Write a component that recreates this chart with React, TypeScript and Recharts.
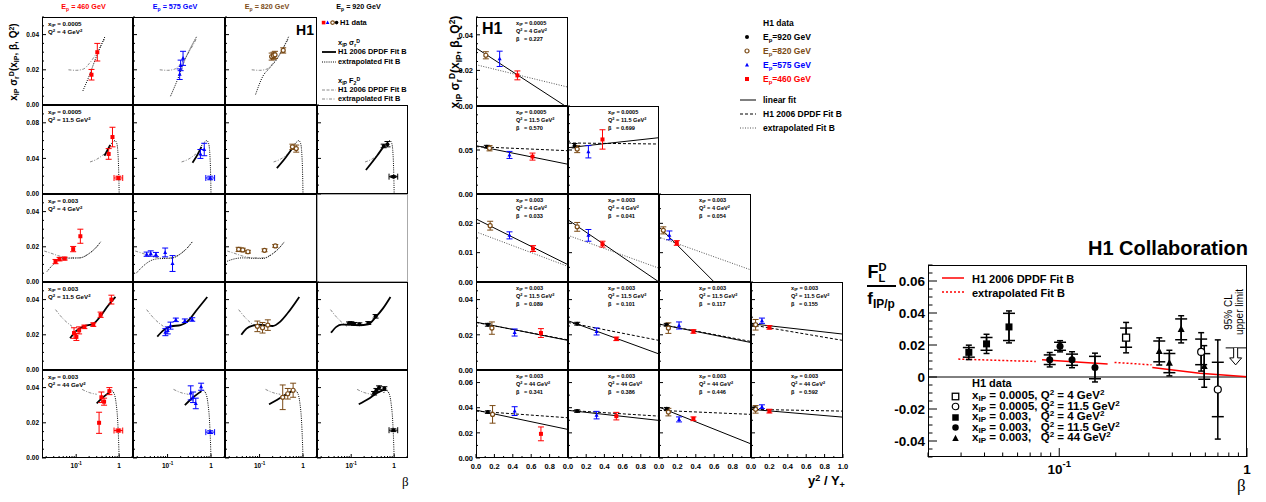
import React from 'react';
import { ComposedChart, Line, Scatter, XAxis, YAxis, ErrorBar, ReferenceLine } from 'recharts';

const FONT = '"Liberation Sans", Arial, Helvetica, sans-serif';
const SERIF = '"Liberation Serif", "DejaVu Serif", serif';
const RED = '#ff0000';
const BLUE = '#0000ff';
const BROWN = '#7b4b16';
const GRAY = '#8a8a8a';

// ---------- left block: x_IP sigma_r^D versus beta ----------
const beamEnergies = ['460', '575', '820', '920'];
const beamColors = [RED, BLUE, BROWN, '#000'];
const beamMarkers = ['square', 'triangle', 'open', 'circle'];
const leftBins = [['0.0005', '4'], ['0.0005', '11.5'], ['0.003', '4'], ['0.003', '11.5'], ['0.003', '44']];

// [beta, value, error] ; optional [.., beta err low, beta err high]
const sig1_460 = [[0.227, 0.0172, 0.003], [0.31, 0.030, 0.005]];
const sig1_575 = [[0.19, 0.0175, 0.003], [0.2, 0.0225, 0.003], [0.227, 0.0265, 0.004]];
const sig1_820 = [[0.19, 0.0275, 0.002], [0.21, 0.028, 0.002], [0.227, 0.0285, 0.002], [0.35, 0.031, 0.0015]];
const sig2_460 = [[0.57, 0.045, 0.006], [0.699, 0.064, 0.011], [0.96, 0.018, 0.002, 0.2, 0.25]];
const sig2_575 = [[0.57, 0.045, 0.005], [0.699, 0.050, 0.007], [0.96, 0.018, 0.002, 0.2, 0.25]];
const sig2_820 = [[0.57, 0.053, 0.003], [0.699, 0.051, 0.004]];
const sig2_920 = [[0.57, 0.054, 0.002], [0.699, 0.056, 0.003], [0.96, 0.0195, 0.001, 0.2, 0.25]];
const sig3_460 = [[0.033, 0.0116, 0.0012], [0.041, 0.013, 0.001], [0.054, 0.0133, 0.0008], [0.085, 0.0187, 0.0015], [0.125, 0.026, 0.004]];
const sig3_575 = [[0.033, 0.0158, 0.0012], [0.041, 0.0162, 0.0015], [0.054, 0.0156, 0.0012], [0.088, 0.0168, 0.0025], [0.13, 0.0105, 0.0045]];
const sig3_820 = [[0.033, 0.0185, 0.0012], [0.041, 0.0182, 0.001], [0.054, 0.0172, 0.0008], [0.13, 0.018, 0.0008], [0.23, 0.0205, 0.0008]];
const sig4_460 = [[0.089, 0.021, 0.003], [0.101, 0.0188, 0.002], [0.117, 0.0225, 0.002], [0.155, 0.0245, 0.001], [0.25, 0.0258, 0.001], [0.37, 0.0314, 0.0015], [0.66, 0.040, 0.0025]];
const sig4_575 = [[0.089, 0.0215, 0.002], [0.101, 0.0225, 0.002], [0.117, 0.0252, 0.002], [0.155, 0.0285, 0.001], [0.25, 0.028, 0.001], [0.37, 0.0287, 0.001]];
const sig4_820 = [[0.089, 0.0248, 0.003], [0.117, 0.024, 0.003], [0.155, 0.0255, 0.003]];
const sig4_920 = [[0.089, 0.0265, 0.0008], [0.101, 0.0266, 0.0008], [0.117, 0.0262, 0.0008], [0.155, 0.026, 0.0008], [0.25, 0.0267, 0.0008], [0.37, 0.0305, 0.001]];
const sig5_460 = [[0.341, 0.020, 0.006], [0.386, 0.0345, 0.003], [0.446, 0.032, 0.002], [0.592, 0.038, 0.002], [0.96, 0.0156, 0.0008, 0.2, 0.25]];
const sig5_575 = [[0.341, 0.037, 0.004], [0.386, 0.0345, 0.003], [0.446, 0.031, 0.003], [0.592, 0.0405, 0.002], [0.96, 0.0147, 0.0008, 0.2, 0.25]];
const sig5_820 = [[0.341, 0.0345, 0.007], [0.446, 0.0365, 0.003], [0.592, 0.0385, 0.004]];
const sig5_920 = [[0.341, 0.0368, 0.001], [0.386, 0.0385, 0.001], [0.446, 0.040, 0.001], [0.592, 0.0395, 0.001], [0.96, 0.0158, 0.0008, 0.2, 0.25]];

// F2 extrapolation (gray), per row
const f2ext_1 = [[0.066, 0.020], [0.1, 0.0197], [0.15, 0.0205], [0.2, 0.0235], [0.3, 0.0295], [0.47, 0.038]];
const f2ext_2 = [[0.21, 0.036], [0.3, 0.039], [0.45, 0.045]];
const f2ext_3 = [[0.018, 0.0176], [0.025, 0.0165], [0.04, 0.0148], [0.07, 0.0137], [0.12, 0.0137], [0.2, 0.0162], [0.3, 0.020], [0.37, 0.0228]];
const f2ext_4 = [[0.033, 0.0343], [0.05, 0.029], [0.08, 0.0248]];
const f2ext_5 = [[0.137, 0.039], [0.2, 0.0372], [0.3, 0.0362]];

// sigma_r fit (solid)
const sigfit_2_460 = [[0.455, 0.043], [0.62, 0.055]];
const sigfit_2_575 = [[0.375, 0.035], [0.5, 0.045], [0.6, 0.053]];
const sigfit_2_820 = [[0.25, 0.029], [0.4, 0.041], [0.6, 0.053]];
const sigfit_2_920 = [[0.22, 0.027], [0.4, 0.043], [0.6, 0.055]];
const sigfit_4_460 = [[0.072, 0.018], [0.1, 0.0222], [0.15, 0.0248], [0.25, 0.0262], [0.38, 0.031], [0.55, 0.0365], [0.82, 0.0415]];
const sigfit_4_575 = [[0.058, 0.019], [0.08, 0.0225], [0.12, 0.0248], [0.2, 0.0255], [0.3, 0.028], [0.45, 0.0335], [0.82, 0.0415]];
const sigfit_4_820 = [[0.038, 0.020], [0.05, 0.0235], [0.07, 0.0252], [0.1, 0.0257], [0.2, 0.025], [0.3, 0.0275], [0.45, 0.0325], [0.82, 0.0415]];
const sigfit_4_920 = [[0.034, 0.0212], [0.045, 0.0245], [0.06, 0.0258], [0.1, 0.0258], [0.15, 0.0255], [0.25, 0.026], [0.37, 0.030], [0.55, 0.035], [0.82, 0.0415]];
const sigfit_5_460 = [[0.3, 0.031], [0.4, 0.034], [0.57, 0.037]];
const sigfit_5_575 = [[0.25, 0.030], [0.35, 0.0335], [0.6, 0.038]];
const sigfit_5_820 = [[0.165, 0.0305], [0.25, 0.033], [0.4, 0.036], [0.6, 0.0385]];
const sigfit_5_920 = [[0.15, 0.0305], [0.25, 0.0335], [0.4, 0.037], [0.6, 0.039]];

// sigma_r extrapolation (dotted)
const sigext_1_460 = [[0.143, 0.008], [0.2, 0.0165], [0.3, 0.028], [0.47, 0.039]];
const sigext_1_575 = [[0.117, 0.005], [0.17, 0.0145], [0.25, 0.0255], [0.47, 0.039]];
const sigext_1_820 = [[0.081, 0.006], [0.12, 0.0165], [0.17, 0.021], [0.25, 0.026], [0.47, 0.039]];
const sigext_3_460 = [[0.021, 0.006], [0.028, 0.0095], [0.04, 0.0125], [0.06, 0.0135], [0.12, 0.0137], [0.2, 0.0162], [0.3, 0.020], [0.37, 0.0228]];
const sigext_3_575 = [[0.019, 0.005], [0.026, 0.0085], [0.04, 0.012], [0.06, 0.0132], [0.12, 0.0135], [0.2, 0.016], [0.3, 0.020], [0.37, 0.0228]];
const sigext_3_820 = [[0.018, 0.0118], [0.025, 0.013], [0.04, 0.0137], [0.07, 0.0135], [0.12, 0.0134], [0.2, 0.016], [0.3, 0.020], [0.37, 0.0228]];
const tail_2 = [[0.6, 0.054], [0.7, 0.058], [0.8, 0.060], [0.88, 0.057], [0.94, 0.045], [0.97, 0.030], [0.99, 0.012], [1.0, 0]];
const tail_5 = [[0.57, 0.037], [0.65, 0.0385], [0.75, 0.037], [0.85, 0.031], [0.92, 0.022], [0.97, 0.010], [1.0, 0]];

const leftPts = [
  [sig1_460, sig1_575, sig1_820, null],
  [sig2_460, sig2_575, sig2_820, sig2_920],
  [sig3_460, sig3_575, sig3_820, null],
  [sig4_460, sig4_575, sig4_820, sig4_920],
  [sig5_460, sig5_575, sig5_820, sig5_920],
];
const leftFit = [
  [null, null, null, null],
  [sigfit_2_460, sigfit_2_575, sigfit_2_820, sigfit_2_920],
  [null, null, null, null],
  [sigfit_4_460, sigfit_4_575, sigfit_4_820, sigfit_4_920],
  [sigfit_5_460, sigfit_5_575, sigfit_5_820, sigfit_5_920],
];
const leftExt = [
  [sigext_1_460, sigext_1_575, sigext_1_820, null],
  [tail_2, tail_2, tail_2, tail_2],
  [sigext_3_460, sigext_3_575, sigext_3_820, null],
  [null, null, null, null],
  [tail_5, tail_5, tail_5, tail_5],
];
const leftF2 = [f2ext_1, f2ext_2, f2ext_3, f2ext_4, f2ext_5];

const leftYDomains = [[0, 0.05], [0, 0.1], [0, 0.05], [0, 0.05], [0, 0.05]];
const leftYMajor = [[0, 0.02, 0.04], [0, 0.04, 0.08], [0, 0.02, 0.04], [0, 0.02, 0.04], [0, 0.02, 0.04]];
const ticks005 = [0, 0.005, 0.01, 0.015, 0.02, 0.025, 0.03, 0.035, 0.04, 0.045, 0.05];
const ticks01 = [0, 0.01, 0.02, 0.03, 0.04, 0.05, 0.06, 0.07, 0.08, 0.09, 0.1];
const leftYTicks = [ticks005, ticks01, ticks005, ticks005, ticks005];
const betaTicks = [0.02, 0.03, 0.04, 0.05, 0.06, 0.07, 0.08, 0.09, 0.1, 0.2, 0.3, 0.4, 0.5, 0.6, 0.7, 0.8, 0.9, 1, 2];
const betaMajor = [0.1, 1];

// ---------- middle block: sigma_r versus y^2/Y+ ----------
// per panel: points for 920, 820, 575, 460 GeV as [y2/Y+, value, error]
const midBetas = [['0.227'], ['0.570', '0.699'], ['0.033', '0.041', '0.054'], ['0.089', '0.101', '0.117', '0.155'], ['0.341', '0.386', '0.446', '0.592']];
const mid_227 = [null, [0.107, 0.0285, 0.002], [0.257, 0.0265, 0.0043], [0.45, 0.0172, 0.0025]];
const mid_570 = [[0.118, 0.0538, 0.0015], [0.147, 0.052, 0.003], [0.364, 0.0444, 0.004], [0.614, 0.0425, 0.004]];
const mid_699 = [[0.072, 0.0549, 0.0025], [0.101, 0.051, 0.004], [0.224, 0.048, 0.007], [0.379, 0.062, 0.011]];
const mid_033 = [null, [0.154, 0.0192, 0.0015], [0.364, 0.0159, 0.0012], [0.62, 0.0114, 0.001]];
const mid_041 = [null, [0.101, 0.0188, 0.0015], [0.224, 0.0159, 0.002], [0.379, 0.0129, 0.001]];
const mid_054 = [null, [0.047, 0.0176, 0.0012], [0.113, 0.0159, 0.0015], [0.193, 0.0133, 0.0008]];
const mid_089 = [[0.129, 0.0257, 0.0008], [0.173, 0.0238, 0.0035], [0.42, 0.0213, 0.002], [0.706, 0.021, 0.0025]];
const mid_101 = [[0.101, 0.0263, 0.0008], null, [0.314, 0.0219, 0.002], [0.531, 0.0177, 0.001]];
const mid_117 = [[0.084, 0.0257, 0.0008], [0.102, 0.0238, 0.003], [0.218, 0.0253, 0.002], [0.374, 0.0219, 0.001]];
const mid_155 = [[0.04, 0.0257, 0.0008], [0.05, 0.0257, 0.003], [0.119, 0.028, 0.0015], [0.2, 0.0242, 0.001]];
const mid_341 = [[0.129, 0.0365, 0.001], [0.18, 0.0347, 0.007], [0.42, 0.0373, 0.0035], [0.706, 0.0192, 0.0055]];
const mid_386 = [[0.101, 0.0373, 0.001], null, [0.314, 0.0341, 0.003], [0.531, 0.0333, 0.003]];
const mid_446 = [[0.084, 0.0392, 0.001], [0.102, 0.0365, 0.003], [0.218, 0.0307, 0.002], [0.374, 0.0312, 0.0015]];
const mid_592 = [[0.04, 0.0395, 0.001], [0.05, 0.0387, 0.003], [0.119, 0.0408, 0.0015], [0.2, 0.0373, 0.0015]];
const midPts = [[mid_227], [mid_570, mid_699], [mid_033, mid_041, mid_054], [mid_089, mid_101, mid_117, mid_155], [mid_341, mid_386, mid_446, mid_592]];

const lin_227 = [[0, 0.0326], [0.97, 0]];
const lin_570 = [[0, 0.0549], [1, 0.0338]];
const lin_699 = [[0, 0.0526], [1, 0.064]];
const lin_033 = [[0, 0.0215], [1, 0.0059]];
const lin_041 = [[0, 0.0212], [1, 0]];
const lin_054 = [[0, 0.0188], [0.6, 0]];
const lin_089 = [[0, 0.0272], [1, 0.0168]];
const lin_101 = [[0, 0.028], [1, 0.0091]];
const lin_117 = [[0, 0.0261], [1, 0.0156]];
const lin_155 = [[0, 0.0263], [1, 0.0204]];
const lin_341 = [[0, 0.0381], [1, 0.0227]];
const lin_386 = [[0, 0.0379], [1, 0.0299]];
const lin_446 = [[0, 0.0405], [1, 0.0112]];
const lin_592 = [[0, 0.0387], [1, 0.0325]];
const midLin = [[lin_227], [lin_570, lin_699], [lin_033, lin_041, lin_054], [lin_089, lin_101, lin_117, lin_155], [lin_341, lin_386, lin_446, lin_592]];

const fb_227 = [[0, 0.0232], [1, 0.0106]];
const fb_570 = [[0, 0.0538], [1, 0.0492]];
const fb_699 = [[0, 0.058], [1, 0.0568]];
const fb_033 = [[0, 0.0171], [1, 0.0053]];
const fb_041 = [[0, 0.0159], [1, 0.0047]];
const fb_054 = [[0, 0.0153], [1, 0.0041]];
const fb_089 = [[0, 0.027], [1, 0.0171]];
const fb_101 = [[0, 0.027], [1, 0.0168]];
const fb_117 = [[0, 0.0261], [1, 0.0162]];
const fb_155 = [[0, 0.0257], [1, 0.0168]];
const fb_341 = [[0, 0.0373], [1, 0.032]];
const fb_386 = [[0, 0.0379], [1, 0.0333]];
const fb_446 = [[0, 0.0379], [1, 0.0347]];
const fb_592 = [[0, 0.0387], [1, 0.0373]];
const midFitB = [[fb_227], [fb_570, fb_699], [fb_033, fb_041, fb_054], [fb_089, fb_101, fb_117, fb_155], [fb_341, fb_386, fb_446, fb_592]];
const midExtrapolated = [true, false, true, false, false];

const midYDomains = [[0, 0.05], [0, 0.1], [0, 0.03], [0, 0.05], [0, 0.07]];
const midYMajor = [[0, 0.02, 0.04], [0, 0.05], [0, 0.01, 0.02], [0, 0.02, 0.04], [0, 0.02, 0.04, 0.06]];
const midYTicks = [ticks005, ticks01, [0, 0.005, 0.01, 0.015, 0.02, 0.025, 0.03], ticks005, [0, 0.01, 0.02, 0.03, 0.04, 0.05, 0.06, 0.07]];
const yyTicks = [0, 0.1, 0.2, 0.3, 0.4, 0.5, 0.6, 0.7, 0.8, 0.9, 1];
const yyMajor = [0, 0.2, 0.4, 0.6, 0.8, 1];
const midEnergies = ['920', '820', '575', '460'];
const midColors = ['#000', BROWN, BLUE, RED];
const midMarkers = ['circle', 'open', 'triangle', 'square'];

// ---------- right block: F_L^D / f_IP/p ----------
// [beta, value, stat, total]
const fl_0005_4 = [[0.227, 0.0246, 0.006, 0.0095]];
const fl_0005_115 = [[0.570, 0.0157, 0.008, 0.012], [0.699, -0.0078, 0.017, 0.031]];
const fl_003_4 = [[0.033, 0.0154, 0.003, 0.0045], [0.041, 0.0207, 0.004, 0.006], [0.054, 0.0313, 0.0085, 0.010]];
const fl_003_115 = [[0.089, 0.0108, 0.003, 0.0045], [0.101, 0.0192, 0.0025, 0.0035], [0.117, 0.0108, 0.0035, 0.005], [0.155, 0.0059, 0.007, 0.009]];
const fl_003_44 = [[0.341, 0.016, 0.0065, 0.0085], [0.386, 0.0087, 0.006, 0.008], [0.446, 0.0298, 0.0065, 0.0085], [0.592, 0.0066, 0.008, 0.013]];
const flSets = [fl_0005_4, fl_0005_115, fl_003_4, fl_003_115, fl_003_44];
const flMarkers = ['osquare', 'open', 'square', 'circle', 'triangle'];
const flLabels = [['0.0005,', '4'], ['0.0005,', '11.5'], ['0.003,', '4'], ['0.003,', '11.5'], ['0.003,', '44']];
const flFit_a = [[0.081, 0.0108], [0.181, 0.0081]];
const flFit_b = [[0.313, 0.0059], [0.56, 0.0023], [1.0, 0.0002]];
const flExt_a = [[0.029, 0.0112], [0.075, 0.0097]];
const flExt_b = [[0.197, 0.0091], [0.31, 0.0076]];
const flLimit = [[0.77, 0.0182], [1, 0.0182]];
const flArrow = [[0.87, 0.0182]];
const flXTicks = [0.02, 0.03, 0.04, 0.05, 0.06, 0.07, 0.08, 0.09, 0.1, 0.2, 0.3, 0.4, 0.5, 0.6, 0.7, 0.8, 0.9, 1];
const flYTicks = [-0.05, -0.045, -0.04, -0.035, -0.03, -0.025, -0.02, -0.015, -0.01, -0.005, 0, 0.005, 0.01, 0.015, 0.02, 0.025, 0.03, 0.035, 0.04, 0.045, 0.05, 0.055, 0.06, 0.065, 0.07];
const flYMajor = [-0.04, -0.02, 0, 0.02, 0.04, 0.06];

const near = (v: number, arr: number[]) => arr.some((a) => Math.abs(a - v) < 1e-9);

function Marker({ kind, color, cx, cy, s }: any) {
  if (cx == null || cy == null) return null;
  const h = s / 2;
  if (kind === 'square') return <rect x={cx - h} y={cy - h} width={s} height={s} fill={color} />;
  if (kind === 'osquare') return <rect x={cx - h} y={cy - h} width={s} height={s} fill="#fff" stroke={color} strokeWidth={1.3} />;
  if (kind === 'open') return <circle cx={cx} cy={cy} r={h} fill="#fff" stroke={color} strokeWidth={1.2} />;
  if (kind === 'triangle') return <path d={`M${cx},${cy - h * 1.15}L${cx + h},${cy + h * 0.75}L${cx - h},${cy + h * 0.75}Z`} fill={color} />;
  return <circle cx={cx} cy={cy} r={h} fill={color} />;
}

// sub/superscripts shifted without growing the line box
const Sub = ({ children }: any) => <span style={{ fontSize: '0.7em', position: 'relative', top: '0.3em' }}>{children}</span>;
const Sup = ({ children }: any) => <span style={{ fontSize: '0.7em', position: 'relative', top: '-0.45em' }}>{children}</span>;

function Txt({ x, y, fs, color = '#000', bold = true, anchor = 'start', font = FONT, children }: any) {
  const tx = anchor === 'middle' ? '-50%' : anchor === 'end' ? '-100%' : '0';
  return (
    <div style={{ position: 'absolute', left: x, top: y, transform: `translate(${tx}, -50%)`, fontSize: fs, fontWeight: bold ? 700 : 400, color, whiteSpace: 'pre', lineHeight: 1, fontFamily: font }}>
      {children}
    </div>
  );
}

function VTxt({ x, y, fs, bold = true, children }: any) {
  return (
    <div style={{ position: 'absolute', left: x, top: y, transform: 'translate(-50%, -50%) rotate(-90deg)', fontSize: fs, fontWeight: bold ? 700 : 400, whiteSpace: 'nowrap', lineHeight: 1, fontFamily: FONT }}>
      {children}
    </div>
  );
}

function LineKey({ x, y, w, color = '#000', dash, width = 1 }: any) {
  return (
    <svg style={{ position: 'absolute', left: x, top: y - 3 }} width={w} height={6}>
      <line x1={0} x2={w} y1={3} y2={3} stroke={color} strokeDasharray={dash} strokeWidth={width} />
    </svg>
  );
}

function MarkKey({ x, y, kind, color, s }: any) {
  return (
    <svg style={{ position: 'absolute', left: x - s, top: y - s }} width={2 * s} height={2 * s}>
      <Marker kind={kind} color={color} cx={s} cy={s} s={s} />
    </svg>
  );
}

const logLabel = (v: number, fs: number) =>
  v === 1 ? '1' : (
    <>
      10<tspan dy={-fs * 0.45} fontSize={fs * 0.7}>-1</tspan>
    </>
  );

interface CurveSpec { pts: number[][]; color: string; dash?: string; width?: number; kind?: 'monotone' | 'linear' }
interface PointSpec { pts: number[][]; color: string; kind: string; size: number; cap?: number; stat?: boolean }

function Panel(p: {
  left: number; top: number; w: number; h: number; ml: number; xh: number;
  xDom: number[]; yDom: number[]; log?: boolean;
  xTicks: number[]; xMajor: number[]; xShow: number[]; xFmt: (v: number) => any;
  yTicks: number[]; yMajor: number[]; yShow: boolean; yFmt: (v: number) => string;
  fs: number; tl: number; curves: CurveSpec[]; series: PointSpec[]; extra?: any; zero?: boolean; bw?: number;
}) {
  const mt = 6, mr = 8, mb = 6;
  const yTick = (t: any) => {
    const v = t.payload.value;
    const major = near(v, p.yMajor);
    return (
      <g>
        <line x1={t.x} x2={t.x + (major ? p.tl : p.tl / 2)} y1={t.y} y2={t.y} stroke="#000" strokeWidth={1} />
        {p.yShow && major && (
          <text x={t.x - 3} y={t.y} dy="0.36em" textAnchor="end" fontSize={p.fs} fontWeight={700} fontFamily={FONT} fill="#000">
            {p.yFmt(v)}
          </text>
        )}
      </g>
    );
  };
  const xTick = (t: any) => {
    const v = t.payload.value;
    const major = near(v, p.xMajor);
    return (
      <g>
        <line x1={t.x} x2={t.x} y1={t.y} y2={t.y - (major ? p.tl : p.tl / 2)} stroke="#000" strokeWidth={1} />
        {near(v, p.xShow) && (
          <text x={t.x} y={t.y + p.fs + 3} textAnchor="middle" fontSize={p.fs} fontWeight={700} fontFamily={FONT} fill="#000">
            {p.xFmt(v)}
          </text>
        )}
      </g>
    );
  };
  return (
    <div style={{ position: 'absolute', left: p.left - p.ml, top: p.top - mt }}>
      <ComposedChart width={p.ml + p.w + mr} height={mt + p.h + mb + p.xh} margin={{ top: mt, right: mr, bottom: mb, left: 0 }}>
        <XAxis type="number" dataKey="x" scale={p.log ? 'log' : 'linear'} domain={p.xDom} allowDataOverflow ticks={p.xTicks} interval={0}
          tickLine={false} axisLine={false} tickSize={0} tickMargin={0} height={p.xh} tick={xTick} />
        <YAxis type="number" dataKey="y" domain={p.yDom} allowDataOverflow ticks={p.yTicks} interval={0}
          tickLine={false} axisLine={false} tickSize={0} tickMargin={0} width={p.ml} tick={yTick} />
        {p.zero && <ReferenceLine y={0} stroke="#000" strokeWidth={1} />}
        {p.curves.map((c, i) => (
          <Line key={`c${i}`} data={c.pts.map(([x, y]) => ({ x, y }))} dataKey="y" stroke={c.color} strokeWidth={c.width ?? 1}
            strokeDasharray={c.dash} dot={false} activeDot={false} isAnimationActive={false} type={c.kind ?? 'monotone'} />
        ))}
        {p.series.map((s, i) => {
          const main = s.pts.filter((d) => d.length < 5 || s.stat);
          const hi = s.stat ? [] : s.pts.filter((d) => d.length >= 5);
          const out = [
            <Scatter key={`s${i}`} data={main.map((d) => ({ x: d[0], y: d[1], e: s.stat ? d[3] : d[2], es: d[2] }))} dataKey="y"
              isAnimationActive={false} shape={(q: any) => <Marker kind={s.kind} color={s.color} cx={q.cx} cy={q.cy} s={s.size} />}>
              <ErrorBar dataKey="e" direction="y" width={s.stat ? 3 : (s.cap ?? 3)} stroke={s.color} strokeWidth={s.stat ? 1.5 : 1} />
              {s.stat && <ErrorBar dataKey="es" direction="y" width={6} stroke={s.color} strokeWidth={1.5} />}
            </Scatter>,
          ];
          if (hi.length) {
            out.push(
              <Scatter key={`h${i}`} data={hi.map((d) => ({ x: d[0], y: d[1], e: d[2], ex: [d[3], d[4]] }))} dataKey="y"
                isAnimationActive={false} shape={(q: any) => <Marker kind={s.kind} color={s.color} cx={q.cx} cy={q.cy} s={s.size} />}>
                <ErrorBar dataKey="ex" direction="x" width={3} stroke={s.color} strokeWidth={1} />
                <ErrorBar dataKey="e" direction="y" width={3} stroke={s.color} strokeWidth={1} />
              </Scatter>,
            );
          }
          return out;
        })}
        {p.extra}
      </ComposedChart>
      <div style={{ position: 'absolute', left: p.ml, top: mt, width: p.w, height: p.h, border: `${p.bw ?? 1}px solid #000`, boxSizing: 'border-box', pointerEvents: 'none' }} />
    </div>
  );
}

const leftCols = [42, 133, 225, 317];
const leftColW = [91, 92, 92, 91];
const leftRowTop = [17, 105, 194, 282, 370];
const leftRowH = [88, 89, 88, 88, 88];
const midCols = [476, 568, 659, 751];
const midColW = [92, 91, 92, 92];
const midRowTop = [17, 106, 194, 282, 370];
const midRowH = [89, 88, 88, 88, 88];

function LeftBlock() {
  const panels: any[] = [];
  for (let r = 0; r < 5; r++) {
    for (let c = 0; c < 4; c++) {
      const pts = leftPts[r][c];
      if (!pts) continue;
      const curves: CurveSpec[] = [];
      curves.push({ pts: leftF2[r], color: GRAY, dash: '3 1.5 1 1.5', width: 1 });
      const ext = leftExt[r][c];
      if (ext) curves.push({ pts: ext, color: '#000', dash: '1 1.2', width: 1 });
      const fit = leftFit[r][c];
      if (fit) curves.push({ pts: fit, color: '#000', width: 1.8 });
      panels.push(
        <Panel key={`l${r}${c}`} left={leftCols[c]} top={leftRowTop[r]} w={leftColW[c]} h={leftRowH[r]}
          ml={c === 0 ? 40 : 10} xh={r === 4 ? 14 : 0} xDom={[0.016, 2.1]} yDom={leftYDomains[r]} log
          xTicks={betaTicks} xMajor={betaMajor} xShow={r === 4 ? betaMajor : []} xFmt={(v) => logLabel(v, 6.5)}
          yTicks={leftYTicks[r]} yMajor={leftYMajor[r]} yShow={c === 0} yFmt={(v) => v.toFixed(2)}
          fs={6.5} tl={4} curves={curves}
          series={[{ pts, color: beamColors[c], kind: beamMarkers[c], size: 4 }]} />,
      );
    }
  }
  return (
    <>
      {beamEnergies.map((e, c) => (
        <Txt key={e} x={leftCols[c] + leftColW[c] / 2 - 4} y={7} fs={7.2} color={beamColors[c]} anchor="middle">
          E<Sub>p</Sub> = {e} GeV
        </Txt>
      ))}
      <VTxt x={14} y={62} fs={10}>
        x<Sub>IP</Sub> σ<Sub>r</Sub><Sup>D</Sup>(x<Sub>IP</Sub>, β, Q<Sup>2</Sup>)
      </VTxt>
      <div style={{ position: 'absolute', left: 317, top: 194, width: 91, height: 88, border: '1px solid #aaa', boxSizing: 'border-box' }} />
      {panels}
      {leftBins.map(([x, q], r) => (
        <React.Fragment key={`b${r}`}>
          <Txt x={48} y={leftRowTop[r] + 7} fs={6.2}>x<Sub>IP</Sub> = {x}</Txt>
          <Txt x={48} y={leftRowTop[r] + 15} fs={6.2}>Q<Sup>2</Sup> = {q} GeV<Sup>2</Sup></Txt>
        </React.Fragment>
      ))}
      <Txt x={314} y={30} fs={14} anchor="end">H1</Txt>
      {beamMarkers.map((k, i) => <MarkKey key={k} x={323.5 + i * 4.3} y={23} kind={k} color={beamColors[i]} s={3.6} />)}
      <Txt x={340} y={23} fs={7.4}>H1 data</Txt>
      <Txt x={338} y={43} fs={7.4}>x<Sub>IP</Sub> σ<Sub>r</Sub><Sup>D</Sup></Txt>
      <LineKey x={322} y={52} w={14} width={1.8} />
      <Txt x={338} y={52} fs={7.4}>H1 2006 DPDF Fit B</Txt>
      <LineKey x={322} y={62} w={14} dash="1 1.2" />
      <Txt x={338} y={62} fs={7.4}>extrapolated Fit B</Txt>
      <Txt x={338} y={81} fs={7.4}>x<Sub>IP</Sub> F<Sub>2</Sub><Sup>D</Sup></Txt>
      <LineKey x={322} y={90} w={14} color={GRAY} dash="3 1.5" />
      <Txt x={338} y={90} fs={7.4}>H1 2006 DPDF Fit B</Txt>
      <LineKey x={322} y={99} w={14} color={GRAY} dash="3 1.5 1 1.5" />
      <Txt x={338} y={99} fs={7.4}>extrapolated Fit B</Txt>
      <Txt x={402} y={481} fs={13} bold={false} font={SERIF}>β</Txt>
    </>
  );
}

function MiddleBlock() {
  const panels: any[] = [];
  for (let r = 0; r < 5; r++) {
    midPts[r].forEach((pp, c) => {
      const series: PointSpec[] = [];
      pp.forEach((d: any, k: number) => {
        if (d) series.push({ pts: [d], color: midColors[k], kind: midMarkers[k], size: 4 });
      });
      const curves: CurveSpec[] = [
        midExtrapolated[r]
          ? { pts: midFitB[r][c], color: '#555', dash: '1 1.5', kind: 'linear' }
          : { pts: midFitB[r][c], color: '#000', dash: '3 2', kind: 'linear' },
        { pts: midLin[r][c], color: '#000', width: 1, kind: 'linear' },
      ];
      panels.push(
        <Panel key={`m${r}${c}`} left={midCols[c]} top={midRowTop[r]} w={midColW[c]} h={midRowH[r]}
          ml={c === 0 ? 40 : 12} xh={r === 4 ? 16 : 0} xDom={[0, 1]} yDom={midYDomains[r]}
          xTicks={yyTicks} xMajor={yyMajor} xShow={r === 4 ? (c === 3 ? yyMajor : yyMajor.slice(0, 5)) : []} xFmt={(v) => v.toFixed(1)}
          yTicks={midYTicks[r]} yMajor={midYMajor[r]} yShow={c === 0} yFmt={(v) => v.toFixed(2)}
          fs={7.5} tl={4} curves={curves} series={series} />,
      );
    });
  }
  return (
    <>
      <VTxt x={455} y={62} fs={12}>
        x<Sub>IP</Sub> σ<Sub>r</Sub><Sup>D</Sup>(x<Sub>IP</Sub>, β, Q<Sup>2</Sup>)
      </VTxt>
      {panels}
      {midBetas.map((row, r) =>
        row.map((b, c) => (
          <React.Fragment key={`t${r}${c}`}>
            <Txt x={midCols[c] + 40} y={midRowTop[r] + 7} fs={5.6}>x<Sub>IP</Sub> = {leftBins[r][0]}</Txt>
            <Txt x={midCols[c] + 40} y={midRowTop[r] + 14.5} fs={5.6}>Q<Sup>2</Sup> = {leftBins[r][1]} GeV<Sup>2</Sup></Txt>
            <Txt x={midCols[c] + 40} y={midRowTop[r] + 22.5} fs={5.6}>{'β   = '}{b}</Txt>
          </React.Fragment>
        )),
      )}
      <Txt x={482} y={29} fs={16}>H1</Txt>
      <Txt x={763} y={23} fs={8.5}>H1 data</Txt>
      {midEnergies.map((e, k) => (
        <React.Fragment key={e}>
          <MarkKey x={747} y={37 + k * 14} kind={midMarkers[k]} color={midColors[k]} s={4} />
          <Txt x={763} y={37 + k * 14} fs={8.5} color={midColors[k]}>E<Sub>p</Sub>={e} GeV</Txt>
        </React.Fragment>
      ))}
      <LineKey x={740} y={100} w={16} />
      <Txt x={763} y={100} fs={8.5}>linear fit</Txt>
      <LineKey x={740} y={114} w={16} dash="3 2" />
      <Txt x={763} y={114} fs={8.5}>H1 2006 DPDF Fit B</Txt>
      <LineKey x={740} y={128} w={16} color="#555" dash="1 1.5" />
      <Txt x={763} y={128} fs={8.5}>extrapolated Fit B</Txt>
      <Txt x={808} y={481} fs={13}>y<Sup>2</Sup> / Y<Sub>+</Sub></Txt>
    </>
  );
}

function RightBlock() {
  const series: PointSpec[] = flSets.map((s, i) => ({ pts: s, color: '#000', kind: flMarkers[i], size: 7, stat: true }));
  const curves: CurveSpec[] = [
    { pts: flExt_a, color: RED, dash: '2 2', width: 1.5, kind: 'linear' },
    { pts: flExt_b, color: RED, dash: '2 2', width: 1.5, kind: 'linear' },
    { pts: flFit_a, color: RED, width: 1.5, kind: 'linear' },
    { pts: flFit_b, color: RED, width: 1.5, kind: 'linear' },
    { pts: flLimit, color: '#000', width: 1, kind: 'linear' },
  ];
  const arrow = (
    <Scatter key="arrow" data={flArrow.map(([x, y]) => ({ x, y }))} dataKey="y" isAnimationActive={false}
      shape={(q: any) => (
        <path d={`M${q.cx - 2},${q.cy}L${q.cx - 2},${q.cy + 10}L${q.cx - 6},${q.cy + 10}L${q.cx},${q.cy + 17}L${q.cx + 6},${q.cy + 10}L${q.cx + 2},${q.cy + 10}L${q.cx + 2},${q.cy}`}
          fill="#fff" stroke="#000" strokeWidth={1} />
      )} />
  );
  return (
    <>
      <Txt x={1248} y={248} fs={20} anchor="end">H1 Collaboration</Txt>
      <Panel left={928} top={265} w={319} h={192} ml={60} xh={22} xDom={[0.02, 1]} yDom={[-0.05, 0.07]} log bw={1.5}
        xTicks={flXTicks} xMajor={betaMajor} xShow={betaMajor} xFmt={(v) => logLabel(v, 13.5)}
        yTicks={flYTicks} yMajor={flYMajor} yShow yFmt={(v) => (v === 0 ? '0' : v.toFixed(2))}
        fs={13.5} tl={9} curves={curves} series={series} extra={arrow} zero />
      <Txt x={877} y={273} fs={18} anchor="middle">F<span style={{ display: 'inline-flex', flexDirection: 'column', fontSize: '0.62em', lineHeight: 0.95, verticalAlign: 'middle' }}><span>D</span><span>L</span></span></Txt>
      <div style={{ position: 'absolute', left: 867, top: 285, width: 29, height: 2, background: '#000' }} />
      <Txt x={881} y={298} fs={17} anchor="middle">f<Sub>IP/p</Sub></Txt>
      <LineKey x={942} y={278} w={22} color={RED} width={1.5} />
      <Txt x={972} y={279} fs={11}>H1 2006 DPDF Fit B</Txt>
      <LineKey x={942} y={292} w={22} color={RED} dash="2 2" width={1.5} />
      <Txt x={972} y={293} fs={11}>extrapolated Fit B</Txt>
      <Txt x={972} y={383} fs={11}>H1 data</Txt>
      {flLabels.map(([x, q], i) => (
        <React.Fragment key={`fl${i}`}>
          <MarkKey x={955} y={396 + i * 10.5} kind={flMarkers[i]} color="#000" s={6.5} />
          <Txt x={972} y={396 + i * 10.5} fs={11.5}>
            x<Sub>IP</Sub> = {x}{x.length < 7 ? '   ' : ' '}Q<Sup>2</Sup> = {q} GeV<Sup>2</Sup>
          </Txt>
        </React.Fragment>
      ))}
      <VTxt x={1229} y={312} fs={10} bold={false}>95% CL</VTxt>
      <VTxt x={1240} y={312} fs={10} bold={false}>upper limit</VTxt>
      <Txt x={1237} y={485} fs={17} bold={false} font={SERIF}>β</Txt>
    </>
  );
}

export default function App() {
  return (
    <div style={{ position: 'absolute', left: 0, top: 0, width: 1266, height: 502, background: '#fff', fontFamily: FONT, overflow: 'hidden' }}>
      <LeftBlock />
      <MiddleBlock />
      <RightBlock />
    </div>
  );
}
